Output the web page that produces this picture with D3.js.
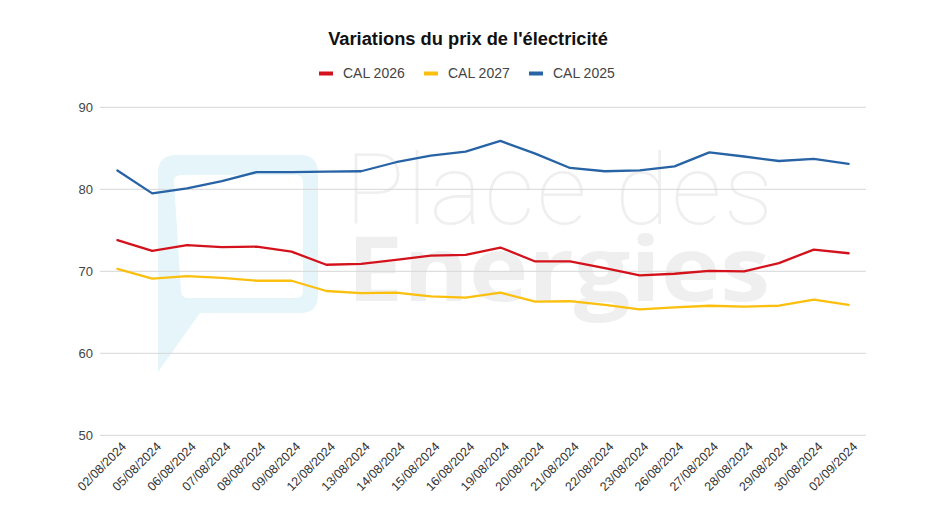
<!DOCTYPE html>
<html><head><meta charset="utf-8">
<script src="https://cdn.jsdelivr.net/npm/d3@7"></script>
<style>body{margin:0;background:#fff;}svg{display:block;}</style>
</head><body>
<svg id="chart" width="936" height="526"></svg>
<script>
const dates = ["02/08/2024","05/08/2024","06/08/2024","07/08/2024","08/08/2024","09/08/2024","12/08/2024","13/08/2024","14/08/2024","15/08/2024","16/08/2024","19/08/2024","20/08/2024","21/08/2024","22/08/2024","23/08/2024","26/08/2024","27/08/2024","28/08/2024","29/08/2024","30/08/2024","02/09/2024"];
const cal2026 = [73.8,72.5,73.2,72.95,73.0,72.4,70.8,70.9,71.4,71.9,72.0,72.9,71.2,71.2,70.4,69.5,69.7,70.05,70.0,71.0,72.65,72.2];
const cal2027 = [70.3,69.1,69.4,69.2,68.85,68.85,67.6,67.35,67.4,66.95,66.8,67.4,66.3,66.35,65.9,65.35,65.6,65.8,65.7,65.8,66.55,65.9];
const cal2025 = [82.3,79.5,80.1,81.0,82.1,82.1,82.15,82.2,83.3,84.1,84.6,85.9,84.35,82.6,82.2,82.3,82.8,84.5,84.0,83.45,83.7,83.1];
const yTicks = [50,60,70,80,90];
const seriesNames = ["CAL 2026","CAL 2027","CAL 2025"];
const seriesColors = ["#d3121c","#fbbf0d","#2763a5"];
const seriesData = [cal2026, cal2027, cal2025];

const svg = d3.select("#chart");
const mLeft = 100, mRight = 866, mTop = 107.3, mBottom = 435.3;
const x = d3.scalePoint().domain(dates).range([mLeft, mRight]).padding(0.5);
const y = d3.scaleLinear().domain([50, 90]).range([mBottom, mTop]);
const sans = "Arial, 'Liberation Sans', sans-serif";

// watermark
const wm = svg.append("g");
wm.append("path")
  .attr("fill", "#e5f5fa")
  .attr("fill-rule", "evenodd")
  .attr("d", "M176,155 L300,155 Q318,155 318,173 L318,295 Q318,313 300,313 L200,313 L158,372 L158,173 Q158,155 176,155 Z " +
             "M183,175 L296,175 Q303,175 303,182 L303,291 Q303,298 296,298 L188,298 Q181,298 181,291 L174,182 Q173,175 183,175 Z");
wm.append("text").attr("x", 345).attr("y", 224)
  .attr("font-family", "Roboto, 'Open Sans', sans-serif").attr("font-weight", 100)
  .attr("font-size", 99).attr("fill", "#efefef").attr("textLength", 428)
  .text("Place des");
wm.append("text").attr("x", 347).attr("y", 301)
  .attr("font-family", "'Open Sans', Roboto, sans-serif").attr("font-weight", 700)
  .attr("font-size", 90).attr("fill", "#efefef").attr("textLength", 423).attr("lengthAdjust", "spacingAndGlyphs")
  .text("Energies");

// gridlines
const grid = svg.append("g");
grid.selectAll("line").data(yTicks).join("line")
  .attr("x1", mLeft).attr("x2", mRight)
  .attr("y1", d => y(d)).attr("y2", d => y(d))
  .attr("stroke", "#d6d6d6").attr("stroke-width", 1);

// y axis
const yAxis = svg.append("g").attr("transform", `translate(${mLeft},0)`)
  .call(d3.axisLeft(y).tickValues(yTicks).tickSize(0).tickPadding(7));
yAxis.select(".domain").remove();
yAxis.selectAll("text").attr("font-family", sans).attr("font-size", 13).attr("fill", "#444");

// x axis
const xAxis = svg.append("g").attr("transform", `translate(0,${mBottom})`)
  .call(d3.axisBottom(x).tickSize(0).tickPadding(0));
xAxis.select(".domain").remove();
xAxis.selectAll("text")
  .attr("font-family", sans).attr("font-size", 12.5).attr("fill", "#333")
  .attr("text-anchor", "end")
  .attr("transform", "translate(6,9) rotate(-45)")
  .attr("dy", "0.35em");

// lines
const line = d3.line().x((d, i) => x(dates[i])).y(d => y(d));
svg.append("g").selectAll("path").data(seriesData).join("path")
  .attr("d", line)
  .attr("fill", "none")
  .attr("stroke", (d, i) => seriesColors[i])
  .attr("stroke-width", 2.3)
  .attr("stroke-linejoin", "round")
  .attr("stroke-linecap", "round");

// title
svg.append("text").attr("x", 468).attr("y", 45).attr("text-anchor", "middle")
  .attr("font-family", sans).attr("font-weight", 700).attr("font-size", 18.3).attr("fill", "#111")
  .text("Variations du prix de l'électricité");

// legend
const legendX = [319, 424, 529];
const lg = svg.append("g").selectAll("g").data(seriesNames).join("g")
  .attr("transform", (d, i) => `translate(${legendX[i]},73.5)`);
lg.append("line").attr("x1", 0).attr("x2", 14).attr("y1", 0).attr("y2", 0)
  .attr("stroke", (d, i) => seriesColors[i]).attr("stroke-width", 4);
lg.append("text").attr("x", 24).attr("y", 0).attr("dy", "0.35em")
  .attr("font-family", sans).attr("font-size", 14).attr("fill", "#444")
  .text(d => d);
</script>
</body></html>
